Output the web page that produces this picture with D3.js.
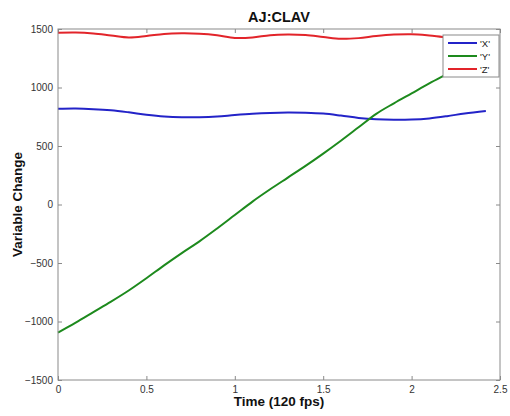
<!DOCTYPE html>
<html>
<head>
<meta charset="utf-8">
<script src="https://cdn.jsdelivr.net/npm/d3@7"></script>
<style>
  body { margin: 0; background: #fff; }
  text { font-family: "Liberation Sans", Arial, sans-serif; }
</style>
</head>
<body>
<div id="chart"></div>
<script>
// time in seconds
var times = [0, 0.1, 0.2, 0.3, 0.4, 0.5, 0.6, 0.7, 0.8, 0.9, 1.0, 1.1, 1.2,
             1.3, 1.4, 1.5, 1.6, 1.7, 1.8, 1.9, 2.0, 2.1, 2.2, 2.3, 2.42];
var xVals = [818, 820, 815, 805, 788, 768, 753, 746, 746, 752, 765, 776, 783,
             786, 784, 777, 760, 740, 728, 724, 726, 736, 755, 778, 800];
var yVals = [-1095, -1010, -920, -830, -735, -630, -520, -415, -315, -205, -90, 25, 130,
             230, 330, 435, 545, 660, 775, 865, 950, 1035, 1115, 1195, 1285];
var zVals = [1468, 1470, 1462, 1445, 1428, 1440, 1458, 1463, 1460, 1447, 1424, 1428, 1447,
             1452, 1448, 1432, 1416, 1422, 1440, 1452, 1455, 1445, 1430, 1432, 1440];
var seriesNames = ["'X'", "'Y'", "'Z'"];
var xTicks = [0, 0.5, 1, 1.5, 2, 2.5];
var yTicks = [-1500, -1000, -500, 0, 500, 1000, 1500];

var colors = ["#2323c8", "#1d8a1d", "#e2242a"];
var series = [xVals, yVals, zVals];

var W = 510, H = 416;
var margin = {top: 29, right: 10, bottom: 36, left: 58};
var width = W - margin.left - margin.right,
    height = H - margin.top - margin.bottom;

var svg = d3.select("#chart").append("svg")
    .attr("width", W)
    .attr("height", H);

var g = svg.append("g")
    .attr("transform", "translate(" + margin.left + "," + margin.top + ")");

var x = d3.scaleLinear().domain([0, 2.5]).range([0, width]);
var y = d3.scaleLinear().domain([-1500, 1500]).range([height, 0]);

g.append("rect")
    .attr("width", width).attr("height", height)
    .attr("fill", "#fff");

// bottom + left axes with labels, ticks pointing in (matlab style)
function styleAxis(sel) {
  sel.select(".domain").remove();
  sel.selectAll("line").attr("stroke", "#8a8a8a");
  sel.selectAll("text").attr("fill", "#333").style("font-size", "10px");
}

g.append("g")
    .attr("transform", "translate(0," + height + ")")
    .call(d3.axisBottom(x).tickValues(xTicks).tickSize(-4).tickPadding(6)
      .tickFormat(d3.format("")))
    .call(styleAxis);

g.append("g")
    .call(d3.axisLeft(y).tickValues(yTicks).tickSize(-4).tickPadding(5)
      .tickFormat(d3.format("")))
    .call(styleAxis);

g.append("g")
    .call(d3.axisTop(x).tickValues(xTicks).tickSize(-4).tickFormat(""))
    .call(styleAxis);

g.append("g")
    .attr("transform", "translate(" + width + ",0)")
    .call(d3.axisRight(y).tickValues(yTicks).tickSize(-4).tickFormat(""))
    .call(styleAxis);

var line = d3.line()
    .x(function(d, i) { return x(times[i]); })
    .y(function(d) { return y(d); })
    .curve(d3.curveCatmullRom);

series.forEach(function(s, k) {
  g.append("path")
      .datum(s)
      .attr("fill", "none")
      .attr("stroke", colors[k])
      .attr("stroke-width", 2)
      .attr("d", line);
});

g.append("rect")
    .attr("width", width).attr("height", height)
    .attr("fill", "none")
    .attr("stroke", "#8a8a8a");

// legend
var leg = g.append("g")
    .attr("transform", "translate(" + (width - 57) + ",6)");
leg.append("rect")
    .attr("width", 56).attr("height", 42)
    .attr("fill", "#fff")
    .attr("stroke", "#8a8a8a");
seriesNames.forEach(function(n, k) {
  var yy = 8 + k * 13;
  leg.append("line")
      .attr("x1", 5).attr("x2", 34)
      .attr("y1", yy).attr("y2", yy)
      .attr("stroke", colors[k]).attr("stroke-width", 2);
  leg.append("text")
      .attr("x", 37).attr("y", yy + 3.5)
      .attr("fill", "#222")
      .style("font-size", "9.5px")
      .text(n);
});

// titles
svg.append("text")
    .attr("x", margin.left + width / 2).attr("y", 22)
    .attr("text-anchor", "middle")
    .style("font-size", "14.5px").style("font-weight", "bold")
    .attr("fill", "#111")
    .text("AJ:CLAV");

svg.append("text")
    .attr("x", margin.left + width / 2).attr("y", 406)
    .attr("text-anchor", "middle")
    .style("font-size", "13.5px").style("font-weight", "bold")
    .attr("fill", "#111")
    .text("Time (120 fps)");

svg.append("text")
    .attr("transform", "translate(22," + (margin.top + height / 2) + ") rotate(-90)")
    .attr("text-anchor", "middle")
    .style("font-size", "13.5px").style("font-weight", "bold")
    .attr("fill", "#111")
    .text("Variable Change");
</script>
</body>
</html>
